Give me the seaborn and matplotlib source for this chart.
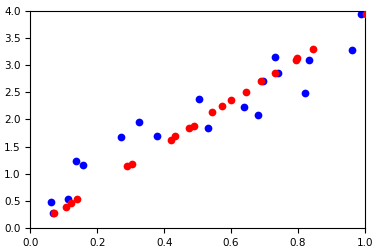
import matplotlib
matplotlib.use("Agg")
import matplotlib.pyplot as plt
import seaborn as sns
import pandas as pd

blue_x = [0.061, 0.069, 0.112, 0.135, 0.156, 0.271, 0.326, 0.380, 0.505, 0.531,
          0.640, 0.682, 0.695, 0.732, 0.741, 0.822, 0.834, 0.962, 0.988]
blue_y = [0.477, 0.275, 0.53, 1.23, 1.17, 1.67, 1.945, 1.69, 2.367, 1.835,
          2.22, 2.09, 2.70, 3.14, 2.86, 2.48, 3.10, 3.27, 3.945]

red_x = [0.0716, 0.105, 0.120, 0.138, 0.290, 0.303, 0.420, 0.431, 0.475, 0.488,
         0.544, 0.574, 0.601, 0.646, 0.690, 0.732, 0.794, 0.798, 0.846, 1.005]
red_y = [0.275, 0.40, 0.46, 0.53, 1.14, 1.19, 1.63, 1.69, 1.85, 1.88,
         2.13, 2.24, 2.35, 2.51, 2.70, 2.86, 3.10, 3.12, 3.30, 3.945]

blue = pd.DataFrame({"x": blue_x, "y": blue_y})
red = pd.DataFrame({"x": red_x, "y": red_y})

fig = plt.figure(figsize=(3.8, 2.52), dpi=100)
ax = fig.add_axes([0.08, 0.094, 0.88, 0.864])
sns.scatterplot(data=blue, x="x", y="y", color="blue", s=31, linewidth=0, ax=ax, zorder=2)
sns.scatterplot(data=red, x="x", y="y", color="red", s=31, linewidth=0, ax=ax, zorder=3)
ax.set_xlim(0, 1)
ax.set_ylim(0, 4)
ax.set_xlabel("")
ax.set_ylabel("")
ax.set_xticks([0.0, 0.2, 0.4, 0.6, 0.8, 1.0])
ax.set_yticks([0.0, 0.5, 1.0, 1.5, 2.0, 2.5, 3.0, 3.5, 4.0])
ax.tick_params(labelsize=7.5)
fig.savefig("out.png", dpi=100)
